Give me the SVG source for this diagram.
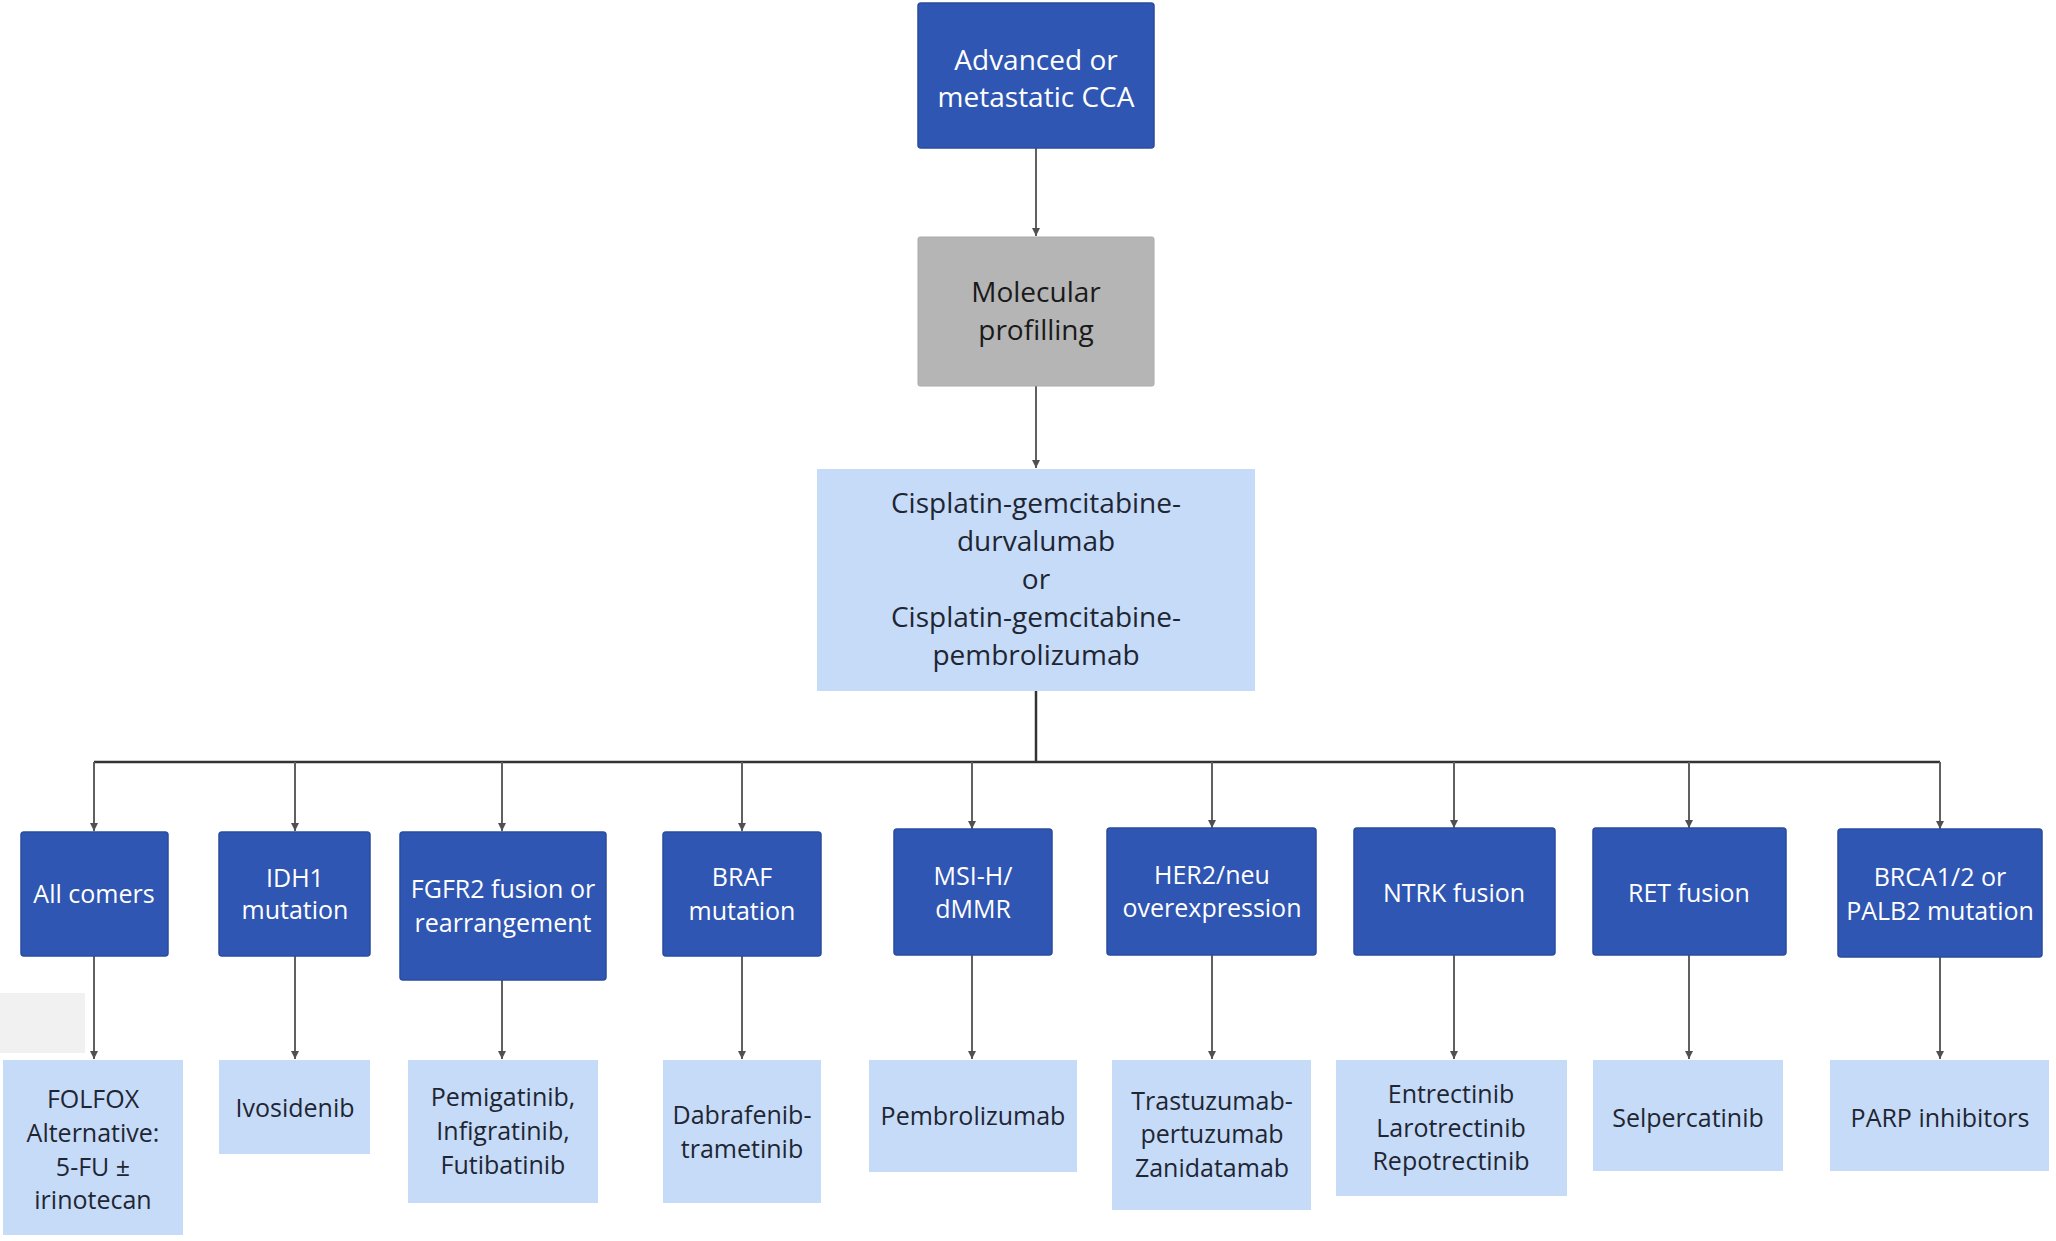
<svg xmlns="http://www.w3.org/2000/svg" width="2056" height="1241" viewBox="0 0 2056 1241">
<style>
  text { font-family: "Open Sans", "Noto Sans", "Liberation Sans", sans-serif; text-anchor: middle; }
  .dark rect { fill: #2f56b2; stroke: #2a4c9e; stroke-width: 1.5; }
  .dark text { fill: #ffffff; font-size: 25px; }
  .top text { font-size: 28px; }
  .gray rect { fill: #b5b5b5; stroke: #aaaaaa; stroke-width: 1; }
  .gray text { fill: #1a1a1a; font-size: 28px; }
  .light rect { fill: #c6dbf7; }
  .light text { fill: #1f2633; font-size: 25px; }
  .mid text { font-size: 28px; }
  .conn { fill: none; stroke: #606060; stroke-width: 2; }
  .bus { fill: none; stroke: #333333; stroke-width: 2.5; }
</style>
<defs>
  <marker id="arr" viewBox="0 0 10 10" refX="10" refY="5" markerWidth="4" markerHeight="4" orient="auto" markerUnits="strokeWidth">
    <path d="M0,0 L10,5 L0,10 z" fill="#505050"/>
  </marker>
</defs>
<rect x="0" y="0" width="2056" height="1241" fill="#ffffff"/>
<rect x="0" y="993" width="85" height="60" fill="#f1f1f1"/>

<g id="connectors">
  <path class="conn" d="M1036,148 V236" marker-end="url(#arr)"/>
  <path class="conn" d="M1036,386 V468" marker-end="url(#arr)"/>
  <path class="bus" d="M1036,691 V762"/>
  <path class="bus" d="M94,762 H1940"/>
  <path class="conn" d="M94,762 V831" marker-end="url(#arr)"/>
  <path class="conn" d="M295,762 V831" marker-end="url(#arr)"/>
  <path class="conn" d="M502,762 V831" marker-end="url(#arr)"/>
  <path class="conn" d="M742,762 V831" marker-end="url(#arr)"/>
  <path class="conn" d="M972,762 V829" marker-end="url(#arr)"/>
  <path class="conn" d="M1212,762 V828" marker-end="url(#arr)"/>
  <path class="conn" d="M1454,762 V828" marker-end="url(#arr)"/>
  <path class="conn" d="M1689,762 V828" marker-end="url(#arr)"/>
  <path class="conn" d="M1940,762 V829" marker-end="url(#arr)"/>
  <path class="conn" d="M94,956 V1059" marker-end="url(#arr)"/>
  <path class="conn" d="M295,956 V1059" marker-end="url(#arr)"/>
  <path class="conn" d="M502,980 V1059" marker-end="url(#arr)"/>
  <path class="conn" d="M742,956 V1059" marker-end="url(#arr)"/>
  <path class="conn" d="M972,955 V1059" marker-end="url(#arr)"/>
  <path class="conn" d="M1212,955 V1059" marker-end="url(#arr)"/>
  <path class="conn" d="M1454,955 V1059" marker-end="url(#arr)"/>
  <path class="conn" d="M1689,955 V1059" marker-end="url(#arr)"/>
  <path class="conn" d="M1940,957 V1059" marker-end="url(#arr)"/>
</g>

<g id="n-advanced" class="dark top">
  <rect x="918" y="3" width="236" height="145" rx="3"/>
  <text x="1036" y="70">Advanced or</text>
  <text x="1036" y="107">metastatic CCA</text>
</g>
<g id="n-molecular" class="gray">
  <rect x="918" y="237" width="236" height="149" rx="2"/>
  <text x="1036" y="302">Molecular</text>
  <text x="1036" y="340">profilling</text>
</g>
<g id="n-firstline" class="light mid">
  <rect x="817" y="469" width="438" height="222"/>
  <text x="1036" y="513">Cisplatin-gemcitabine-</text>
  <text x="1036" y="551">durvalumab</text>
  <text x="1036" y="589">or</text>
  <text x="1036" y="627">Cisplatin-gemcitabine-</text>
  <text x="1036" y="665">pembrolizumab</text>
</g>

<g id="n-allcomers" class="dark">
  <rect x="21" y="832" width="147" height="124" rx="3"/>
  <text x="94" y="903">All comers</text>
</g>
<g id="n-idh1" class="dark">
  <rect x="219" y="832" width="151" height="124" rx="3"/>
  <text x="295" y="887">IDH1</text>
  <text x="295" y="919">mutation</text>
</g>
<g id="n-fgfr2" class="dark">
  <rect x="400" y="832" width="206" height="148" rx="3"/>
  <text x="503" y="898">FGFR2 fusion or</text>
  <text x="503" y="932">rearrangement</text>
</g>
<g id="n-braf" class="dark">
  <rect x="663" y="832" width="158" height="124" rx="3"/>
  <text x="742" y="886">BRAF</text>
  <text x="742" y="920">mutation</text>
</g>
<g id="n-msi" class="dark">
  <rect x="894" y="829" width="158" height="126" rx="3"/>
  <text x="973" y="885">MSI-H/</text>
  <text x="973" y="918">dMMR</text>
</g>
<g id="n-her2" class="dark">
  <rect x="1107" y="828" width="209" height="127" rx="3"/>
  <text x="1212" y="884">HER2/neu</text>
  <text x="1212" y="917">overexpression</text>
</g>
<g id="n-ntrk" class="dark">
  <rect x="1354" y="828" width="201" height="127" rx="3"/>
  <text x="1454" y="902">NTRK fusion</text>
</g>
<g id="n-ret" class="dark">
  <rect x="1593" y="828" width="193" height="127" rx="3"/>
  <text x="1689" y="902">RET fusion</text>
</g>
<g id="n-brca" class="dark">
  <rect x="1838" y="829" width="204" height="128" rx="3"/>
  <text x="1940" y="886">BRCA1/2 or</text>
  <text x="1940" y="920">PALB2 mutation</text>
</g>

<g id="n-folfox" class="light">
  <rect x="3" y="1060" width="180" height="175"/>
  <text x="93" y="1108">FOLFOX</text>
  <text x="93" y="1142">Alternative:</text>
  <text x="93" y="1176">5-FU ±</text>
  <text x="93" y="1209">irinotecan</text>
</g>
<g id="n-ivosidenib" class="light">
  <rect x="219" y="1060" width="151" height="94"/>
  <text x="295" y="1117">Ivosidenib</text>
</g>
<g id="n-pemigatinib" class="light">
  <rect x="408" y="1060" width="190" height="143"/>
  <text x="503" y="1106">Pemigatinib,</text>
  <text x="503" y="1140">Infigratinib,</text>
  <text x="503" y="1174">Futibatinib</text>
</g>
<g id="n-dabrafenib" class="light">
  <rect x="663" y="1060" width="158" height="143"/>
  <text x="742" y="1124">Dabrafenib-</text>
  <text x="742" y="1158">trametinib</text>
</g>
<g id="n-pembrolizumab" class="light">
  <rect x="869" y="1060" width="208" height="112"/>
  <text x="973" y="1125">Pembrolizumab</text>
</g>
<g id="n-trastuzumab" class="light">
  <rect x="1112" y="1060" width="199" height="150"/>
  <text x="1212" y="1110">Trastuzumab-</text>
  <text x="1212" y="1143">pertuzumab</text>
  <text x="1212" y="1177">Zanidatamab</text>
</g>
<g id="n-entrectinib" class="light">
  <rect x="1336" y="1060" width="231" height="136"/>
  <text x="1451" y="1103">Entrectinib</text>
  <text x="1451" y="1137">Larotrectinib</text>
  <text x="1451" y="1170">Repotrectinib</text>
</g>
<g id="n-selpercatinib" class="light">
  <rect x="1593" y="1060" width="190" height="111"/>
  <text x="1688" y="1127">Selpercatinib</text>
</g>
<g id="n-parp" class="light">
  <rect x="1830" y="1060" width="219" height="111"/>
  <text x="1940" y="1127">PARP inhibitors</text>
</g>
</svg>
